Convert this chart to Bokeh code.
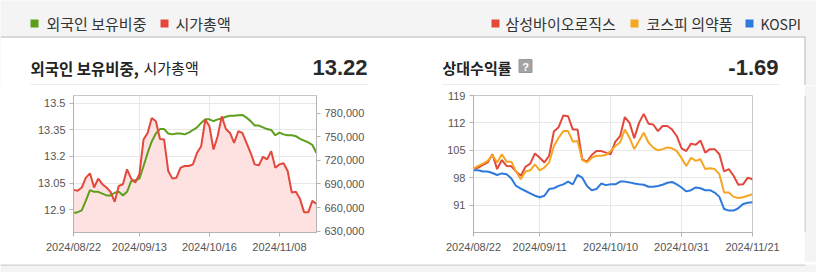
from bokeh.plotting import figure
from bokeh.layouts import column, row
from bokeh.models import Range1d, LinearAxis, FixedTicker, NumeralTickFormatter, CustomJSTickFormatter
from bokeh.core.properties import value
from bokeh.embed import file_html
from bokeh.resources import INLINE

# ---------------- data ----------------
dates = [
    "2024/08/22", "2024/08/23", "2024/08/26", "2024/08/27", "2024/08/28", "2024/08/29", "2024/08/30",
    "2024/09/02", "2024/09/03", "2024/09/04", "2024/09/05", "2024/09/06", "2024/09/09", "2024/09/10",
    "2024/09/11", "2024/09/12", "2024/09/13", "2024/09/19", "2024/09/20", "2024/09/23", "2024/09/24",
    "2024/09/25", "2024/09/26", "2024/09/27", "2024/09/30", "2024/10/02", "2024/10/04", "2024/10/07",
    "2024/10/08", "2024/10/10", "2024/10/11", "2024/10/14", "2024/10/15", "2024/10/16", "2024/10/17",
    "2024/10/18", "2024/10/21", "2024/10/22", "2024/10/23", "2024/10/24", "2024/10/25", "2024/10/28",
    "2024/10/29", "2024/10/30", "2024/10/31", "2024/11/01", "2024/11/04", "2024/11/05", "2024/11/06",
    "2024/11/07", "2024/11/08", "2024/11/11", "2024/11/12", "2024/11/13", "2024/11/14", "2024/11/15",
    "2024/11/18", "2024/11/19", "2024/11/20", "2024/11/21",
]

foreign_ratio = [
    12.88, 12.885, 12.895, 12.95, 13.01, 13.0, 13.0, 12.99, 12.98, 12.98,
    12.995, 13.0, 12.98, 13.0, 13.06, 13.065, 13.075, 13.145, 13.22, 13.285,
    13.33, 13.355, 13.355, 13.33, 13.325, 13.33, 13.33, 13.325, 13.335, 13.35,
    13.365, 13.39, 13.41, 13.41, 13.4, 13.41, 13.415, 13.425, 13.43, 13.43,
    13.433, 13.435, 13.42, 13.4, 13.375, 13.375, 13.365, 13.355, 13.35, 13.32,
    13.335, 13.325, 13.32, 13.32, 13.315, 13.3, 13.29, 13.28, 13.265, 13.22,
]

market_cap = [
    682500, 681300, 685500, 698000, 703500, 685500, 696800, 689700, 685500, 680000,
    667400, 687600, 689700, 708600, 696800, 691800, 702300, 746400, 754800, 773700,
    769500, 747200, 746400, 706500, 696800, 698000, 710700, 712800, 712800, 714900,
    729600, 738000, 771600, 763200, 733800, 750600, 775800, 759800, 754800, 742200,
    756900, 754800, 742200, 729600, 714900, 713600, 724500, 721200, 731700, 710700,
    714900, 716200, 706500, 679200, 680000, 670800, 654000, 654000, 668700, 664500,
]

samsung_bio = [
    100.2, 100.6, 101.3, 101.9, 104.0, 100.2, 102.5, 101.0, 100.9, 99.6,
    98.5, 100.8, 101.6, 104.2, 103.1, 101.9, 103.6, 109.8, 110.9, 113.9,
    113.7, 110.3, 110.3, 102.7, 102.1, 103.8, 104.8, 104.8, 104.4, 104.0,
    107.2, 108.6, 113.5, 112.0, 108.1, 112.0, 114.3, 111.8, 111.6, 109.9,
    111.2, 111.2, 110.3, 108.6, 105.5, 104.8, 106.7, 106.4, 107.5, 104.4,
    105.3, 105.3, 104.0, 99.6, 100.2, 98.5, 96.2, 96.3, 98.0, 97.6,
]

kospi_pharma = [
    100.3, 101.0, 101.6, 102.3, 103.8, 101.9, 104.0, 102.1, 102.1, 99.6,
    97.6, 99.6, 99.9, 101.4, 99.9, 100.6, 101.9, 106.1, 108.2, 109.9,
    109.9, 107.2, 107.4, 102.5, 101.9, 103.1, 103.6, 103.6, 103.8, 104.8,
    106.1, 107.0, 110.3, 108.2, 105.3, 107.4, 109.5, 107.0, 105.7, 105.0,
    105.3, 105.7, 105.5, 104.8, 103.0, 101.0, 103.1, 102.3, 102.7, 100.2,
    100.4, 100.2, 98.9, 94.2, 94.2, 93.1, 92.8, 93.0, 93.4, 93.8,
]

kospi = [
    99.9, 99.9, 99.6, 99.6, 99.2, 98.7, 99.1, 98.9, 97.8, 95.9,
    95.2, 94.6, 94.0, 93.4, 93.0, 93.4, 95.1, 95.3, 95.9, 96.3,
    97.0, 96.3, 98.7, 98.0, 95.9, 94.8, 95.1, 96.5, 96.1, 96.3,
    96.3, 97.0, 97.0, 96.8, 96.5, 96.3, 96.2, 95.7, 95.7, 95.9,
    96.2, 96.7, 96.9, 96.3, 95.5, 94.5, 94.8, 95.5, 95.3, 94.8,
    94.8, 94.2, 93.1, 90.0, 89.6, 89.6, 90.2, 91.3, 91.6, 91.7,
]

left_tick_dates = ["2024/08/22", "2024/09/13", "2024/10/16", "2024/11/08"]
right_tick_dates = ["2024/08/22", "2024/09/11", "2024/10/10", "2024/10/31", "2024/11/21"]
ratio_ticks = [12.9, 13.05, 13.2, 13.35, 13.5]
cap_ticks = [630000, 660000, 690000, 720000, 750000, 780000]
rel_ticks = [91, 98, 105, 112, 119]

left_title_bold = "외국인 보유비중,"
left_title_normal = "시가총액"
left_value = "13.22"
right_title = "상대수익률"
right_value = "-1.69"
legend_left = ["외국인 보유비중", "시가총액"]
legend_right_kr = ["삼성바이오로직스", "코스피 의약품"]
legend_right_en = ["KOSPI"]

# ---------------- styles ----------------
KR = "Noto Sans CJK KR"
NUM = "Liberation Sans"
GREEN = "#5c9f1b"
RED = "#e4483b"
ORANGE = "#f6a623"
BLUE = "#2e79dc"
PINK = "#fde2e1"
BG = "#f4f4f4"
BORDER = "#b9b9b9"

idx = list(range(len(dates)))


def deco_fig(w, h, xr, yr, bg):
    p = figure(width=w, height=h, x_range=Range1d(*xr), y_range=Range1d(*yr),
               min_border=0, toolbar_location=None, output_backend="svg",
               x_axis_location=None, y_axis_location=None)
    p.outline_line_color = None
    p.xgrid.visible = False
    p.ygrid.visible = False
    p.background_fill_color = bg
    p.border_fill_color = bg
    return p


def style_chart(p):
    p.outline_line_color = "#c8c8c8"
    p.background_fill_color = "white"
    p.border_fill_color = "white"
    p.xgrid.grid_line_color = "#e8e8e8"
    p.ygrid.grid_line_color = "#e8e8e8"
    for ax in p.axis:
        ax.axis_line_color = "#b4b4b4"
        ax.major_tick_line_color = "#b4b4b4"
        ax.major_tick_out = 4
        ax.major_tick_in = 0
        ax.minor_tick_line_color = None
        ax.major_label_text_font = NUM
        ax.major_label_text_font_size = "11px"
        ax.major_label_text_color = "#555555"
        ax.major_label_standoff = 4


# ---------------- header: legend + titles ----------------
header = deco_fig(816, 85, (0, 816), (85, 0), BG)
header.quad(left=[0], right=[804.5], top=[37], bottom=[85], fill_color="white", line_color=None)
header.segment(x0=[0, 804.5], y0=[36.5, 36.5], x1=[805, 804.5], y1=[36.5, 85],
               line_color=BORDER, line_width=1)

header.rect(x=[34, 164], y=[23, 23], width=8, height=8, fill_color=[GREEN, RED], line_color=None)
header.text(x=[46, 175], y=[23, 23], text=legend_left, text_font=value(KR),
            text_font_size="15px", text_color="#333333", text_baseline="middle")
header.rect(x=[495, 634], y=[23, 23], width=8, height=8, fill_color=[RED, ORANGE], line_color=None)
header.text(x=[505, 646], y=[23, 23], text=legend_right_kr, text_font=value(KR),
            text_font_size="15px", text_color="#333333", text_baseline="middle")
header.rect(x=[749], y=[23], width=8, height=8, fill_color=[BLUE], line_color=None)
header.text(x=[760], y=[23], text=legend_right_en, text_font=value(KR),
            text_font_size="14px", text_color="#333333", text_baseline="middle")

# left title
header.text(x=[30], y=[67], text=[left_title_bold], text_font=value(KR), text_font_style="bold",
            text_font_size="15.5px", text_color="#222222", text_baseline="middle")
header.text(x=[143], y=[67], text=[left_title_normal], text_font=value(KR),
            text_font_size="15px", text_color="#222222", text_baseline="middle")
header.text(x=[367], y=[67], text=[left_value], text_font=value(NUM), text_font_style="bold",
            text_font_size="22px", text_color="#2a2a2a", text_baseline="middle", text_align="right")
header.segment(x0=[30], y0=[84.5], x1=[368], y1=[84.5], line_color="#d8d8d8", line_width=1)

# right title
header.text(x=[442], y=[67], text=[right_title], text_font=value(KR), text_font_style="bold",
            text_font_size="15px", text_color="#222222", text_baseline="middle")
header.rect(x=[525], y=[65.5], width=13, height=13, fill_color="#a3a3a3", line_color="#999999")
header.text(x=[525], y=[66], text=["?"], text_font=value(NUM), text_font_style="bold",
            text_font_size="11px", text_color="white", text_baseline="middle", text_align="center")
header.text(x=[778], y=[67], text=[right_value], text_font=value(NUM), text_font_style="bold",
            text_font_size="22px", text_color="#2a2a2a", text_baseline="middle", text_align="right")
header.segment(x0=[442], y0=[84.5], x1=[779], y1=[84.5], line_color="#d8d8d8", line_width=1)

# ---------------- left chart ----------------
lc = figure(width=410, height=177, x_range=Range1d(0, len(dates) - 1),
            y_range=Range1d(12.77, 13.545), min_border_left=73, min_border_right=94,
            min_border_top=9, min_border_bottom=30, toolbar_location=None, output_backend="svg")
cap_lo, cap_hi = 628400, 802300
lc.extra_y_ranges = {"cap": Range1d(cap_lo, cap_hi)}
lc.add_layout(LinearAxis(y_range_name="cap", ticker=FixedTicker(ticks=cap_ticks),
                         formatter=NumeralTickFormatter(format="0,0")), "right")
left_tick_idx = [dates.index(d) for d in left_tick_dates]
lc.xaxis[0].ticker = FixedTicker(ticks=left_tick_idx)
lc.xaxis[0].major_label_overrides = {i: d for i, d in zip(left_tick_idx, left_tick_dates)}
lc.yaxis[0].ticker = FixedTicker(ticks=ratio_ticks)
lc.yaxis[0].formatter = CustomJSTickFormatter(code="return String(Math.round(tick*100)/100)")
lc.varea(x=idx, y1=cap_lo, y2=market_cap, y_range_name="cap", fill_color=PINK)
lc.line(idx, foreign_ratio, line_color=GREEN, line_width=2)
lc.line(idx, market_cap, y_range_name="cap", line_color=RED, line_width=2)
style_chart(lc)

# ---------------- right chart ----------------
rc = figure(width=394, height=177, x_range=Range1d(0, len(dates) - 1), y_range=Range1d(84, 119),
            min_border_left=63, min_border_right=52, min_border_top=10, min_border_bottom=30,
            toolbar_location=None, output_backend="svg")
right_tick_idx = [dates.index(d) for d in right_tick_dates]
rc.xaxis[0].ticker = FixedTicker(ticks=right_tick_idx)
rc.xaxis[0].major_label_overrides = {i: d for i, d in zip(right_tick_idx, right_tick_dates)}
rc.yaxis[0].ticker = FixedTicker(ticks=rel_ticks)
rc.line(idx, samsung_bio, line_color=RED, line_width=2)
rc.line(idx, kospi_pharma, line_color=ORANGE, line_width=2)
rc.line(idx, kospi, line_color=BLUE, line_width=2)
style_chart(rc)

# ---------------- borders / filler ----------------
strip = deco_fig(12, 177, (804, 816), (262, 85), BG)
strip.segment(x0=[804.5], y0=[85], x1=[804.5], y1=[262], line_color=BORDER, line_width=1)

footer = deco_fig(816, 10, (0, 816), (272, 262), BG)
footer.segment(x0=[0], y0=[262.5], x1=[805], y1=[262.5], line_color=BORDER, line_width=1)

layout = column(header, row(lc, rc, strip, spacing=0), footer, spacing=0)

open("out.html", "w").write(file_html(layout, INLINE))
